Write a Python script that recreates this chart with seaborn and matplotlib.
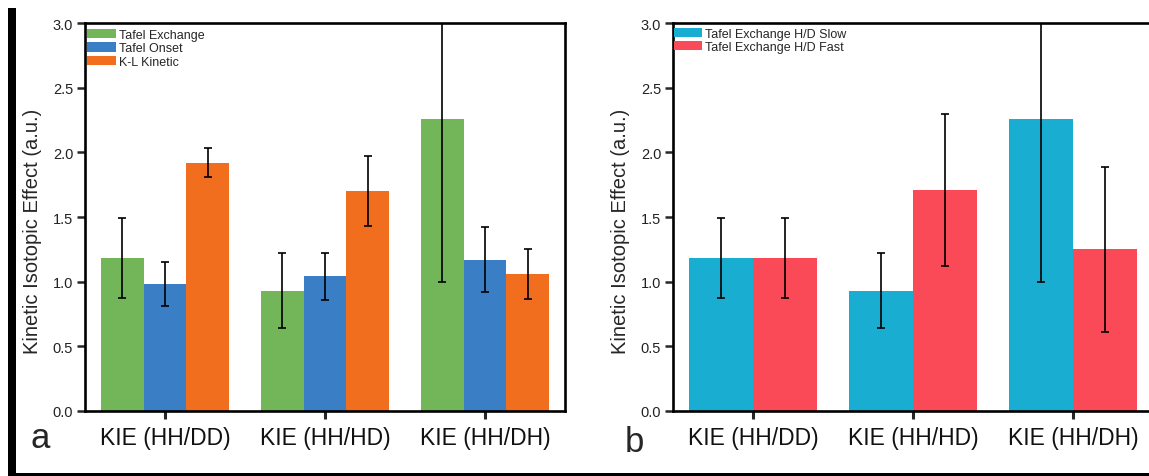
import matplotlib
matplotlib.use("Agg")
import matplotlib.pyplot as plt
from matplotlib.patches import Rectangle
import seaborn as sns
import pandas as pd

# Categories and series
categories = ["KIE (HH/DD)", "KIE (HH/HD)", "KIE (HH/DH)"]

series_a = ["Tafel Exchange", "Tafel Onset", "K-L Kinetic"]
tafel_exchange = [1.18, 0.93, 2.26]
tafel_exchange_err = [0.31, 0.29, 1.26]
tafel_onset = [0.98, 1.04, 1.17]
tafel_onset_err = [0.17, 0.18, 0.25]
kl_kinetic = [1.92, 1.70, 1.06]
kl_kinetic_err = [0.11, 0.27, 0.195]

series_b = ["Tafel Exchange H/D Slow", "Tafel Exchange H/D Fast"]
hd_slow = [1.18, 0.93, 2.26]
hd_slow_err = [0.31, 0.29, 1.26]
hd_fast = [1.18, 1.71, 1.25]
hd_fast_err = [0.31, 0.585, 0.64]

yticks = [0.0, 0.5, 1.0, 1.5, 2.0, 2.5, 3.0]
ylabel = "Kinetic Isotopic Effect (a.u.)"

colors_a = ["#72b659", "#3a7fc5", "#f26e1f"]
colors_b = ["#19aed1", "#fb4a57"]

sns.set_style("ticks")
plt.rcParams["font.family"] = ["Liberation Sans", "DejaVu Sans"]

W, H = 1149, 477
fig = plt.figure(figsize=(W / 100, H / 100), dpi=100)


def frame(df, values, errs, order, colors, left_px, legend_anchor):
    ax = fig.add_axes([left_px / W, 65 / H, 480 / W, 388 / H])
    sns.barplot(data=df, x="category", y="value", hue="series",
                order=categories, hue_order=order, palette=colors,
                saturation=1, linewidth=0, errorbar=None, ax=ax)
    # error bars centred on each drawn bar
    for cont, v, e in zip(ax.containers, values, errs):
        xs = [p.get_x() + p.get_width() / 2 for p in cont.patches]
        ax.errorbar(xs, v, yerr=e, fmt="none", ecolor="black",
                    elinewidth=1.2, capsize=2.9, capthick=1.2, zorder=5)
    ax.set_ylim(0, 3.0)
    ax.set_xlim(-0.5, 2.5)
    ax.set_yticks(yticks)
    ax.set_yticklabels([f"{t:.1f}" for t in yticks])
    ax.set_xlabel("")
    ax.set_ylabel(ylabel, fontsize=14.5)
    ax.yaxis.set_label_coords(-0.089, 0.466)
    for s in ax.spines.values():
        s.set_visible(True)
        s.set_linewidth(1.9)
        s.set_color("black")
    ax.tick_params(axis="y", direction="out", length=6, width=1.8,
                   labelsize=10.5, pad=2.5, labelcolor="#222222")
    ax.tick_params(axis="x", direction="out", length=6, width=2.2,
                   labelsize=16.5, pad=5, labelcolor="#111111")
    handles, labels = ax.get_legend_handles_labels()
    ax.legend(handles, labels, loc="upper left", bbox_to_anchor=legend_anchor,
              frameon=False, fontsize=9, handlelength=2.25, handleheight=0.75,
              handletextpad=0.25, labelspacing=0.12, borderpad=0,
              borderaxespad=0)
    return ax


df_a = pd.DataFrame({
    "category": categories * 3,
    "series": [s for s in series_a for _ in categories],
    "value": tafel_exchange + tafel_onset + kl_kinetic,
})
ax_a = frame(df_a, [tafel_exchange, tafel_onset, kl_kinetic],
             [tafel_exchange_err, tafel_onset_err, kl_kinetic_err],
             series_a, colors_a, 85, (0.005, 0.985))

df_b = pd.DataFrame({
    "category": categories * 2,
    "series": [s for s in series_b for _ in categories],
    "value": hd_slow + hd_fast,
})
ax_b = frame(df_b, [hd_slow, hd_fast], [hd_slow_err, hd_fast_err],
             series_b, colors_b, 673, (0.002, 0.988))

# panel letters
fig.text(30 / W, (H - 448) / H, "a", fontsize=25, va="baseline", ha="left")
fig.text(625 / W, (H - 452) / H, "b", fontsize=25, va="baseline", ha="left")

# outer frame: heavy left bar and bottom rule
fig.add_artist(Rectangle((8 / W, 0), 8 / W, (H - 9) / H,
                         transform=fig.transFigure, color="black", lw=0))
fig.add_artist(Rectangle((8 / W, 0), (W - 8) / W, 3 / H,
                         transform=fig.transFigure, color="black", lw=0))

fig.savefig("out.png", dpi=100)
